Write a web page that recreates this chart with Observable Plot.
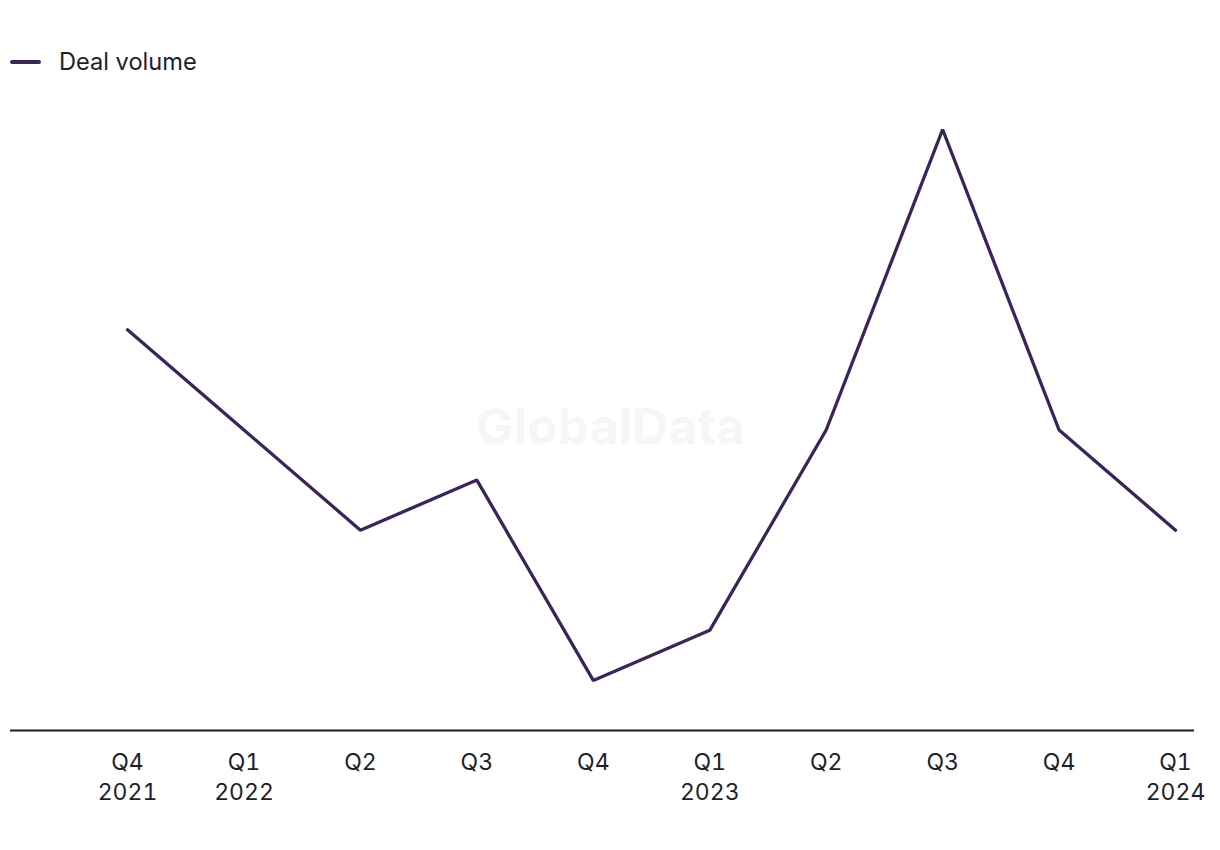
<!DOCTYPE html>
<html>
<head>
<meta charset="utf-8">
<script src="https://cdn.jsdelivr.net/npm/d3@7"></script>
<script src="https://cdn.jsdelivr.net/npm/@observablehq/plot@0.6"></script>
<style>
  html, body { margin: 0; padding: 0; background: #fff; overflow: hidden; }
  body { width: 1220px; font-family: "Inter", "Liberation Sans", sans-serif; color: #1e1e2a; }
  #legend { position: relative; height: 100px; }
  #legend .swatch { position: absolute; left: 10px; top: 60px; width: 31px; height: 4px; border-radius: 2px; background: #3a2458; }
  #legend .label { position: absolute; left: 59px; top: 46px; font-size: 23.6px; line-height: 32px; }
</style>
</head>
<body>
<div id="legend"><span class="swatch"></span><span class="label">Deal volume</span></div>
<div id="chart"></div>
<script>
const quarters = ["Q4", "Q1", "Q2", "Q3", "Q4", "Q1", "Q2", "Q3", "Q4", "Q1"];
const years    = ["2021", "2022", "", "", "", "2023", "", "", "", "2024"];
const dealVolume = [8, 6, 4, 5, 1, 2, 6, 12, 6, 4];

const data = dealVolume.map((v, i) => ({i, v}));
const tickLabels = quarters.map((q, i) => years[i] ? q + "\n" + years[i] : q);

const chart = Plot.plot({
  width: 1220,
  height: 730,
  marginTop: 29,
  marginBottom: 100,
  marginLeft: 10,
  marginRight: 26,
  style: {fontFamily: "Inter, 'Liberation Sans', sans-serif", color: "#1e1e2a", background: "#fff"},
  x: {domain: [-1.005, 9.163]},
  y: {domain: [0, 12], axis: null},
  marks: [
    Plot.text(["GlobalData"], {frameAnchor: "middle", dx: 8, dy: -2, fontSize: 50, fontWeight: "bold", fill: "#f6f6f6"}),
    Plot.axisX({
      ticks: d3.range(quarters.length),
      tickFormat: i => tickLabels[i],
      tickSize: 0,
      tickPadding: 19,
      fontSize: 23,
      lineHeight: 1.28,
      fill: "#1e1e2a",
      label: null
    }),
    Plot.ruleY([0], {stroke: "#1c1c2c", strokeWidth: 2}),
    Plot.line(data, {x: "i", y: "v", stroke: "#3a2458", strokeWidth: 3.3, strokeLinejoin: "miter"})
  ]
});
document.getElementById("chart").appendChild(chart);
</script>
</body>
</html>
